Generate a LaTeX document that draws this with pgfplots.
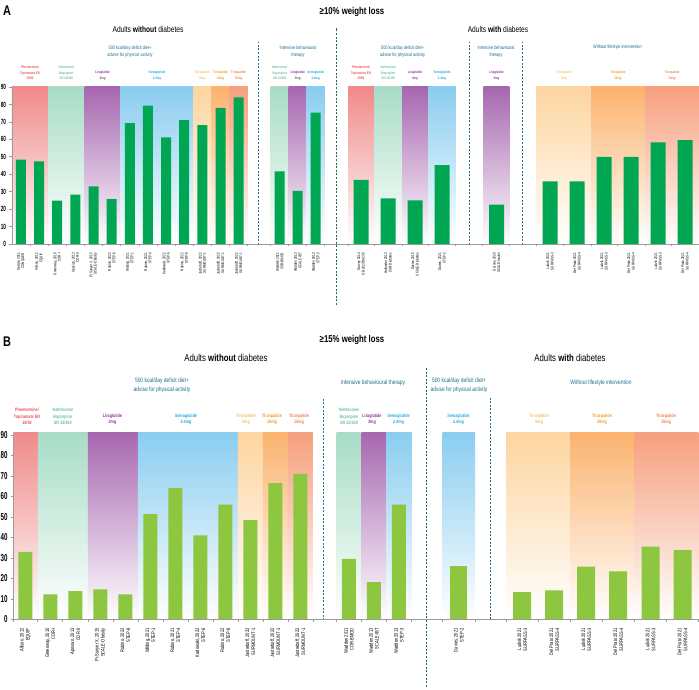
\documentclass[border=0pt]{standalone}
\usepackage{pgfplots}
\pgfplotsset{compat=1.18}
\usepackage{fontspec}
\setmainfont{Liberation Sans}[FakeStretch=0.78]
\newfontfamily\condfont{Liberation Sans}[FakeStretch=0.62]
\definecolor{barA}{HTML}{00A651}
\definecolor{barB}{HTML}{8DC63F}
\definecolor{cPink}{HTML}{F08A8A}
\definecolor{cMint}{HTML}{A8DCC6}
\definecolor{cPurp}{HTML}{A767B0}
\definecolor{cBlue}{HTML}{8ACDF0}
\definecolor{cOrA}{HTML}{FDD5A0}
\definecolor{cOrB}{HTML}{FBB36E}
\definecolor{cOrC}{HTML}{F6A07E}
\definecolor{tPink}{HTML}{E8505B}
\definecolor{tMint}{HTML}{6DBFA0}
\definecolor{tPurp}{HTML}{8A3A94}
\definecolor{tBlue}{HTML}{27AAE1}
\definecolor{tOrA}{HTML}{F6BE6E}
\definecolor{tOrB}{HTML}{F29A2E}
\definecolor{tOrC}{HTML}{EE8250}
\definecolor{tealT}{HTML}{1F6E8C}
\definecolor{dashB}{HTML}{2A6F8C}
\definecolor{dashG}{HTML}{1E6B52}
\definecolor{axgray}{HTML}{9A9A9A}
\newcommand{\band}[4][90]{\addplot[draw=none, top color=#4, bottom color=white, forget plot] coordinates {(#2,#1) (#3,#1)} \closedcycle;}
\tikzset{dl/.style={align=center, anchor=south, inner sep=0pt, font=\bfseries\fontsize{3.6}{5.4}\selectfont},
dlb/.style={align=center, anchor=south, inner sep=0pt, font=\bfseries\fontsize{4.8}{6.4}\selectfont}}
\pgfplotsset{
  dsh/.style={dash pattern=on 2pt off 1.6pt, line width=0.9pt, forget plot},
  common/.style={scale only axis, clip=false, axis on top,
    axis x line*=bottom, axis y line*=left,
    axis line style={axgray, line width=0.7pt},
    ymin=0, ymax=90, ytick={0,10,...,90},
    /pgf/number format/assume math mode=true,
    tick align=outside, major tick length=2.5pt, minor tick length=2.5pt,
    tick style={axgray, line width=0.6pt},
    major x tick style={draw=none},
    xticklabel style={rotate=90, anchor=east, align=right},
  }
}
\begin{document}
\begin{tikzpicture}
\path[use as bounding box] (0,0) rectangle (699pt,690pt);
% ================= Panel A =================
\begin{axis}[common, at={(12pt,446pt)}, anchor=south west,
  width=687pt, height=157pt, xmin=12, xmax=699,
  yticklabel style={font=\condfont\bfseries\fontsize{7.5}{7.5}\selectfont},
  xticklabel style={font=\fontsize{3.9}{4.4}\selectfont}, xticklabel shift=3pt,
  xtick={21,39.1,57.2,75.4,93.5,111.7,129.8,147.9,166.1,184.2,202.4,220.5,238.6,279.7,297.7,315.7,361,388,415,442,496.5,550,577,604,631,658,685},
  xticklabels={{Gadde, 2011\\CONQUER},{Allison, 2012\\EQUIP},{Greenway, 2010\\COR-I},{Apovian, 2013\\COR-II},{Pi-Sunyer X, 2015\\SCALE-Obesity},{Rubino, 2022\\STEP-8},{Wilding, 2021\\STEP-1},{Rubino, 2021\\STEP-4},{Kadowaki, 2022\\STEP-6},{Rubino, 2022\\STEP-8},{Jastreboff, 2022\\SURMOUNT-1},{Jastreboff, 2022\\SURMOUNT-1},{Jastreboff, 2022\\SURMOUNT-1},{Wadden 2011\\COR-BMOD},{Wadden 2013\\SCALE-IBT},{Wadden 2013\\STEP-3},{Garvey 2014\\OB-202/DM-230},{Hollander 2013\\COR-Diabetes},{Davies 2015\\SCALE-Diabetes},{Davies, 2021\\STEP-2},{Garvey, 2020\\SCALE-Insulin},{Ludvik 2021\\SURPASS-3},{Del Prato 2021\\SURPASS-4},{Ludvik 2021\\SURPASS-3},{Del Prato 2021\\SURPASS-4},{Ludvik 2021\\SURPASS-3},{Del Prato 2021\\SURPASS-4}},
  minor xtick={11.9,30.1,48.2,66.3,84.5,102.6,120.7,138.9,157.0,175.2,193.3,211.4,229.6,247.7,270.7,288.7,306.7,324.7,348,374.7,402,428.7,455.7,482.7,509.3,536.7,563.3,591,617.7,645,671.7,699},
]
\band{12}{48.2}{cPink}
\band{48.2}{84.5}{cMint}
\band{84.5}{120.7}{cPurp}
\band{120.7}{193.3}{cBlue}
\band{193.3}{211.4}{cOrA}
\band{211.4}{229.6}{cOrB}
\band{229.6}{247.7}{cOrC}
\band{270.7}{288.7}{cMint}
\band{288.7}{306.7}{cPurp}
\band{306.7}{324.7}{cBlue}
\band{348}{374.7}{cPink}
\band{374.7}{402}{cMint}
\band{402}{428.7}{cPurp}
\band{428.7}{455.7}{cBlue}
\band{483.3}{509.3}{cPurp}
\band{536.7}{591}{cOrA}
\band{591}{645}{cOrB}
\band{645}{699}{cOrC}
\addplot[ybar, bar shift=0pt, bar width=10, fill=barA, draw=none] coordinates {
(21,48.3) (39.1,47.3) (57.2,24.9) (75.4,28.3) (93.5,33.1) (111.7,25.7) (129.8,69.3) (147.9,79.3) (166.1,61.1) (184.2,71.0) (202.4,68.1) (220.5,78.0) (238.6,84.1)};
\addplot[ybar, bar shift=0pt, bar width=10, fill=barA, draw=none] coordinates {
(279.7,41.6) (297.7,30.5) (315.7,75.3)};
\addplot[ybar, bar shift=0pt, bar width=15, fill=barA, draw=none] coordinates {
(361,36.8) (388,26.1) (415,25.0) (442,45.2) (496.5,22.5)};
\addplot[ybar, bar shift=0pt, bar width=15, fill=barA, draw=none] coordinates {
(550,35.9) (577,35.9) (604,50.0) (631,50.0) (658,58.2) (685,59.5)};
\addplot[dashB, dsh] coordinates {(258.3,-0.5) (258.3,115.8)};
\addplot[dashB, dsh] coordinates {(469.3,-0.5) (469.3,115.8)};
\addplot[dashB, dsh] coordinates {(522.7,-0.5) (522.7,115.8)};
\addplot[dashG, dsh] coordinates {(336.5,-35) (336.5,124)};
\end{axis}
% ================= Panel B =================
\begin{axis}[common, at={(13.5pt,70.7pt)}, anchor=south west,
  width=685.5pt, height=184.3pt, xmin=13.5, xmax=699,
  yticklabel style={font=\condfont\bfseries\fontsize{10}{10}\selectfont},
  xticklabel style={font=\fontsize{5.2}{5.9}\selectfont}, xticklabel shift=3pt,
  xtick={25.3,50.3,75.3,100.3,125.3,150.3,175.3,200.3,225.3,250.3,275.3,300.3,348.9,373.9,398.9,458.8,522.2,554.2,586.2,618.2,650.5,682.5},
  xticklabels={{Allison, 2012\\EQUIP},{Greenway, 2010\\COR-I},{Apovian, 2013\\COR-II},{Pi-Sunyer X, 2015\\SCALE-Obesity},{Rubino, 2022\\STEP-8},{Wilding, 2021\\STEP-1},{Rubino, 2021\\STEP-4},{Kadowaki, 2022\\STEP-6},{Rubino, 2022\\STEP-8},{Jastreboff, 2022\\SURMOUNT-1},{Jastreboff, 2022\\SURMOUNT-1},{Jastreboff, 2022\\SURMOUNT-1},{Wadden 2011\\COR-BMOD},{Wadden 2013\\SCALE-IBT},{Wadden 2013\\STEP-3},{Davies, 2021\\STEP-2},{Ludvik 2021\\SURPASS-3},{Del Prato 2021\\SURPASS-4},{Ludvik 2021\\SURPASS-3},{Del Prato 2021\\SURPASS-4},{Ludvik 2021\\SURPASS-3},{Del Prato 2021\\SURPASS-4}},
  minor xtick={13.5,37.8,62.8,87.8,112.8,137.8,162.8,187.8,212.8,237.8,262.8,287.8,312.8,336.7,361.7,386.7,411.7,442.7,475,506,538.3,570,602.3,634.3,666.7,698.3},
]
\band[91.3]{13.5}{37.8}{cPink}
\band[91.3]{37.8}{87.8}{cMint}
\band[91.3]{87.8}{137.8}{cPurp}
\band[91.3]{137.8}{237.8}{cBlue}
\band[91.3]{237.8}{262.8}{cOrA}
\band[91.3]{262.8}{287.8}{cOrB}
\band[91.3]{287.8}{312.8}{cOrC}
\band[91.3]{336.7}{361.7}{cMint}
\band[91.3]{361.7}{386.7}{cPurp}
\band[91.3]{386.7}{411.7}{cBlue}
\band[91.3]{442.7}{475}{cBlue}
\band[91.3]{506}{570}{cOrA}
\band[91.3]{570}{634.3}{cOrB}
\band[91.3]{634.3}{698.3}{cOrC}
\addplot[ybar, bar shift=0pt, bar width=14, fill=barB, draw=none] coordinates {
(25.3,32.9) (50.3,12.2) (75.3,13.7) (100.3,14.6) (125.3,12.2) (150.3,51.4) (175.3,64.0) (200.3,41.0) (225.3,56.0) (250.3,48.4) (275.3,66.5) (300.3,71.0)};
\addplot[ybar, bar shift=0pt, bar width=14, fill=barB, draw=none] coordinates {
(348.9,29.5) (373.9,18.2) (398.9,56.0)};
\addplot[ybar, bar shift=0pt, bar width=17, fill=barB, draw=none] coordinates {
(458.8,26.0)};
\addplot[ybar, bar shift=0pt, bar width=18, fill=barB, draw=none] coordinates {
(522.2,13.3) (554.2,14.1) (586.2,25.7) (618.2,23.4) (650.5,35.5) (682.5,33.8)};
\addplot[dashB, dsh] coordinates {(323.3,-0.5) (323.3,108)};
\addplot[dashG, dsh] coordinates {(426.7,-33) (426.7,122.8)};
\addplot[dashB, dsh] coordinates {(490.7,0) (490.7,108)};
\end{axis}
% ================= Text =================
\begin{scope}[x=1pt,y=-1pt,yshift=690pt]
% Panel A
\node[font=\bfseries\fontsize{14}{14}\selectfont, anchor=west, inner sep=0pt] at (3,11) {A};
\node[font=\bfseries\fontsize{10}{10}\selectfont] at (352,12) {≥10\% weight loss};
\node[font=\fontsize{8.5}{9}\selectfont] at (148,29) {Adults \textbf{without} diabetes};
\node[font=\fontsize{8.5}{9}\selectfont] at (498,29) {Adults \textbf{with} diabetes};
\node[tealT, align=center, font=\fontsize{5}{7}\selectfont] at (130,51.5) {500 kcal/day deficit diet+\\advise for physical activity};
\node[tealT, align=center, font=\fontsize{5}{7}\selectfont] at (298,51.5) {Intensive behavioural\\therapy};
\node[tealT, align=center, font=\fontsize{5}{7}\selectfont] at (402.5,52) {500 kcal/day deficit diet+\\advise for physical activity};
\node[tealT, align=center, font=\fontsize{5}{7}\selectfont] at (496,52) {Intensive behavioural\\therapy};
\node[tealT, align=center, font=\fontsize{5}{7}\selectfont] at (617.5,47) {Without lifestyle intervention};
\node[dl, tPink] at (30,80) {Phentermine/\\Topiramate ER\\15/92};
\node[dl, tMint] at (66.3,80) {Naltrexone/\\Bupropion\\SR 32/360};
\node[dl, tPurp] at (102.6,80) {Liraglutide\\3mg};
\node[dl, tBlue] at (157,80) {Semaglutide\\2.4mg};
\node[dl, tOrA] at (202.3,80) {Tirzepatide\\5mg};
\node[dl, tOrB] at (220.5,80) {Tirzepatide\\10mg};
\node[dl, tOrC] at (238.6,80) {Tirzepatide\\15mg};
\node[dl, tMint] at (279.7,80) {Naltrexone/\\Bupropion\\SR 32/360};
\node[dl, tPurp] at (297.7,80) {Liraglutide\\3mg};
\node[dl, tBlue] at (315.7,80) {Semaglutide\\2.4mg};
\node[dl, tPink] at (361,80) {Phentermine/\\Topiramate ER\\15/92};
\node[dl, tMint] at (388.3,80) {Naltrexone/\\Bupropion\\SR 32/360};
\node[dl, tPurp] at (415,80) {Liraglutide\\3mg};
\node[dl, tBlue] at (442,80) {Semaglutide\\2.4mg};
\node[dl, tPurp] at (496.5,80) {Liraglutide\\3mg};
\node[dl, tOrA] at (564,80) {Tirzepatide\\5mg};
\node[dl, tOrB] at (618,80) {Tirzepatide\\10mg};
\node[dl, tOrC] at (672,80) {Tirzepatide\\15mg};
% Panel B
\node[font=\bfseries\fontsize{14}{14}\selectfont, anchor=west, inner sep=0pt] at (3,342) {B};
\node[font=\bfseries\fontsize{10}{10}\selectfont] at (352,340) {≥15\% weight loss};
\node[font=\fontsize{10}{10}\selectfont] at (226,358) {Adults \textbf{without} diabetes};
\node[font=\fontsize{10}{10}\selectfont] at (570,358) {Adults \textbf{with} diabetes};
\node[tealT, align=center, font=\fontsize{6.3}{8.5}\selectfont] at (162,385.5) {500 kcal/day deficit diet+\\advise for physical activity};
\node[tealT, align=center, font=\fontsize{6.3}{8.5}\selectfont] at (373,383) {Intensive behavioural therapy};
\node[tealT, align=center, font=\fontsize{6.3}{8.5}\selectfont] at (459,385.5) {500 kcal/day deficit diet+\\advise for physical activity};
\node[tealT, align=center, font=\fontsize{6.3}{8.5}\selectfont] at (601,383) {Without lifestyle intervention};
\node[dlb, tPink] at (27,425) {Phentermine/\\Topiramate ER\\15/92};
\node[dlb, tMint] at (62.8,425) {Naltrexone/\\Bupropion\\SR 32/360};
\node[dlb, tPurp] at (112.5,425) {Liraglutide\\3mg};
\node[dlb, tBlue] at (186,425) {Semaglutide\\2.4mg};
\node[dlb, tOrA] at (246,425) {Tirzepatide\\5mg};
\node[dlb, tOrB] at (272,425) {Tirzepatide\\10mg};
\node[dlb, tOrC] at (299,425) {Tirzepatide\\15mg};
\node[dlb, tMint] at (349,425) {Naltrexone/\\Bupropion\\SR 32/360};
\node[dlb, tPurp] at (372,425) {Liraglutide\\3mg};
\node[dlb, tBlue] at (398.5,425) {Semaglutide\\2.4mg};
\node[dlb, tBlue] at (458.5,425) {Semaglutide\\2.4mg};
\node[dlb, tOrA] at (539,425) {Tirzepatide\\5mg};
\node[dlb, tOrB] at (602,425) {Tirzepatide\\10mg};
\node[dlb, tOrC] at (666,425) {Tirzepatide\\15mg};
\end{scope}
\end{tikzpicture}
\end{document}
